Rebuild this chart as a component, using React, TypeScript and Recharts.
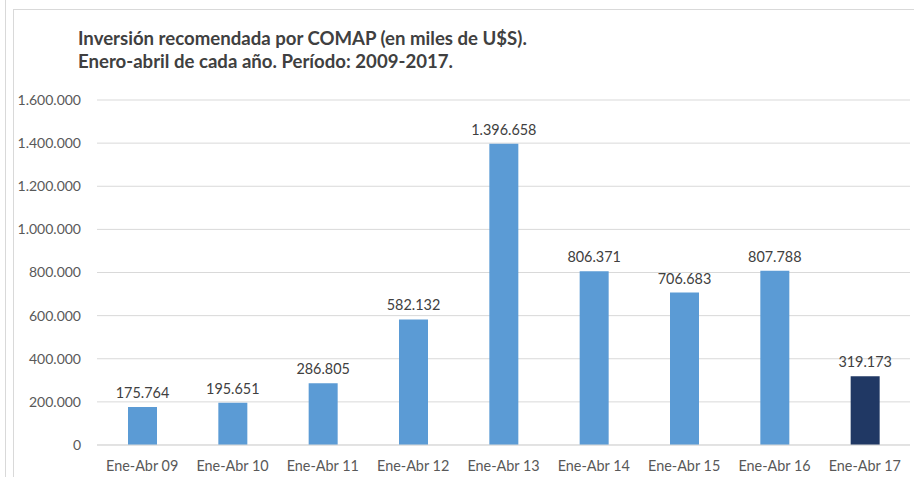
import { BarChart, Bar, XAxis, YAxis, CartesianGrid, Cell, LabelList } from "recharts";

const categories = [
  "Ene-Abr 09",
  "Ene-Abr 10",
  "Ene-Abr 11",
  "Ene-Abr 12",
  "Ene-Abr 13",
  "Ene-Abr 14",
  "Ene-Abr 15",
  "Ene-Abr 16",
  "Ene-Abr 17",
];

const inversion = [175764, 195651, 286805, 582132, 1396658, 806371, 706683, 807788, 319173];

const yTicks = [0, 200000, 400000, 600000, 800000, 1000000, 1200000, 1400000, 1600000];

const data = categories.map((name, i) => ({ name, value: inversion[i] }));

const FONT = "Lato, 'Open Sans', sans-serif";
const GRID = "#d9d9d9";

// Excel style thousands separator: 1.396.658
const fmt = (v: number) => String(Math.round(v)).replace(/\B(?=(\d{3})+(?!\d))/g, ".");

export default function App() {
  return (
    <div style={{ position: "absolute", left: 0, top: 0, width: 914, height: 477, background: "#fff", fontFamily: FONT }}>
      {/* frame lines */}
      <div style={{ position: "absolute", left: 5, top: 0, width: 1, height: 477, background: GRID }} />
      <div style={{ position: "absolute", left: 13, top: 9, width: 1, height: 468, background: GRID }} />
      <div style={{ position: "absolute", left: 13, top: 9, width: 901, height: 1, background: GRID }} />

      <div
        style={{
          position: "absolute",
          left: 78,
          top: 27,
          fontSize: 18.6,
          fontWeight: 700,
          lineHeight: "23px",
          color: "#404040",
          whiteSpace: "nowrap",
        }}
      >
        <div>Inversión recomendada por COMAP (en miles de U$S).</div>
        <div>Enero-abril de cada año. Período: 2009-2017.</div>
      </div>

      <BarChart
        width={914}
        height={477}
        data={data}
        margin={{ top: 100, right: 4, bottom: 8, left: 0 }}
        style={{ position: "absolute", left: 0, top: 0 }}
      >
        <CartesianGrid vertical={false} stroke={GRID} />
        <XAxis
          dataKey="name"
          height={24}
          axisLine={{ stroke: GRID }}
          tickLine={false}
          tickMargin={10}
          tick={{ fill: "#595959", fontSize: 14.4, fontFamily: FONT }}
          interval={0}
        />
        <YAxis
          width={97}
          domain={[0, 1600000]}
          ticks={yTicks}
          axisLine={false}
          tickLine={false}
          tickMargin={10}
          tickFormatter={fmt}
          tick={{ fill: "#595959", fontSize: 14, fontFamily: FONT }}
        />
        <Bar dataKey="value" barSize={29} fill="#5b9bd5" isAnimationActive={false}>
          {data.map((_, i) => (
            <Cell key={`cell-${i}`} fill={i === data.length - 1 ? "#203864" : "#5b9bd5"} />
          ))}
          <LabelList
            dataKey="value"
            position="top"
            offset={9}
            formatter={(v: any) => fmt(Number(v))}
            style={{ fill: "#404040", fontSize: 14.4, fontFamily: FONT }}
          />
        </Bar>
      </BarChart>
    </div>
  );
}
